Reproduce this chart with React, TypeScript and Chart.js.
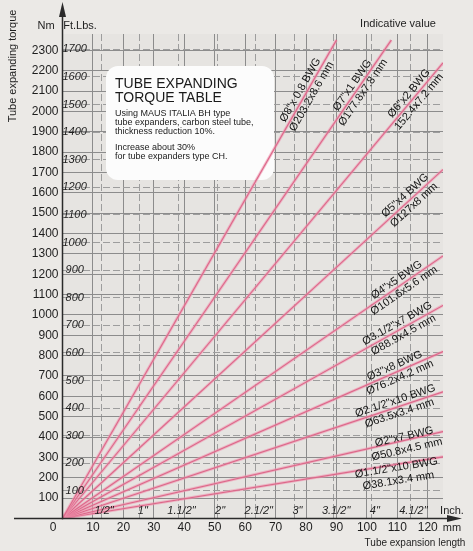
import React, { useEffect, useRef } from 'react';
import { Chart, registerables } from 'chart.js';

Chart.register(...registerables);

const FONT = '"Liberation Sans", Arial, Helvetica, sans-serif';

// Tube series (inch designation / metric designation)
const LINE_LABELS_INCH = [
  'Ø8"x 0.8 BWG',
  'Ø7"x1 BWG',
  'Ø6"x2 BWG',
  'Ø5"x4 BWG',
  'Ø4"x5 BWG',
  'Ø3.1/2"x7 BWG',
  'Ø3"x8 BWG',
  'Ø2.1/2"x10 BWG',
  'Ø2"x7 BWG',
  'Ø1.1/2"x10 BWG',
];
const LINE_LABELS_MM = [
  'Ø203.2x8.6 mm',
  'Ø177.8x7.8 mm',
  '152.4x7.2 mm',
  'Ø127x8 mm',
  'Ø101.6x5.6 mm',
  'Ø88.9x4.5 mm',
  'Ø76.2x4.2 mm',
  'Ø63.5x3.4 mm',
  'Ø50.8x4.5 mm',
  'Ø38.1x3.4 mm',
];
// Each line runs from (0 mm, 0 Nm) to its end point
const END_LENGTH_MM = [90, 108, 125, 125, 125, 125, 125, 125, 125, 125];
const END_TORQUE_NM = [2350, 2350, 2238, 1714, 1290, 1047, 820, 622, 427, 303];
// where the label sits along each line (mm)
const LABEL_AT_MM = [80, 97, 115.5, 114, 111, 111, 110, 110, 112.5, 109.5];

const INCH_TICK_VALUES = [0.5, 1, 1.5, 2, 2.5, 3, 3.5, 4, 4.5];
const INCH_TICK_LABELS = ['1/2"', '1"', '1.1/2"', '2"', '2.1/2"', '3"', '3.1/2"', '4"', '4.1/2"'];

const MM_MAX = 125;
const NM_MAX = 2380;
const NM_PER_FTLB = 1.35582;
const MM_PER_INCH = 25.4;

// styling
const SOLID_GRID = '#8c8c8c';
const DASH_GRID = '#9d9d9d';
const LABEL_PERP_SHIFT = [0, 0, 0, 0, 0, 0, 0, 0, 3, 10];

function hideZero(color: string) {
  return (c: any) => (c.tick && c.tick.value === 0 ? 'rgba(0,0,0,0)' : color);
}

const decor = {
  id: 'decor',
  beforeDraw(chart: any) {
    const { ctx, width, height } = chart;
    ctx.save();
    ctx.fillStyle = '#ebe9e6';
    ctx.fillRect(0, 0, width, height);
    const a = chart.chartArea;
    ctx.fillStyle = '#e6e4e1';
    ctx.fillRect(a.left, a.top, a.right - a.left, a.bottom - a.top);
    ctx.restore();
  },
  beforeDatasetsDraw(chart: any) {
    const { ctx } = chart;
    ctx.save();
    // info box
    const x = 106, y = 66, w = 168, h = 114, r = 12;
    ctx.beginPath();
    ctx.moveTo(x + r, y);
    ctx.arcTo(x + w, y, x + w, y + h, r);
    ctx.arcTo(x + w, y + h, x, y + h, r);
    ctx.arcTo(x, y + h, x, y, r);
    ctx.arcTo(x, y, x + w, y, r);
    ctx.closePath();
    ctx.fillStyle = '#fcfcfc';
    ctx.fill();
    ctx.fillStyle = '#1a1a1a';
    ctx.textAlign = 'left';
    ctx.textBaseline = 'alphabetic';
    ctx.font = `14px ${FONT}`;
    ctx.fillText('TUBE EXPANDING', 115, 88);
    ctx.fillText('TORQUE TABLE', 115, 102);
    ctx.font = `9px ${FONT}`;
    ctx.fillText('Using MAUS ITALIA BH type', 115, 116);
    ctx.fillText('tube expanders, carbon steel tube,', 115, 125);
    ctx.fillText('thickness reduction 10%.', 115, 134);
    ctx.fillText('Increase about 30%', 115, 150);
    ctx.fillText('for tube expanders type CH.', 115, 159);
    ctx.restore();
  },
  afterDraw(chart: any) {
    const { ctx } = chart;
    const xs = chart.scales.x;
    const ys = chart.scales.y;
    const x2 = chart.scales.x2;
    const ox = xs.getPixelForValue(0);
    const oy = ys.getPixelForValue(0);
    ctx.save();
    // axes
    ctx.strokeStyle = '#2a2a2a';
    ctx.fillStyle = '#2a2a2a';
    ctx.lineWidth = 1.5;
    ctx.beginPath();
    ctx.moveTo(ox, oy + 1);
    ctx.lineTo(ox, 10);
    ctx.moveTo(14, oy);
    ctx.lineTo(452, oy);
    ctx.stroke();
    ctx.beginPath();
    ctx.moveTo(ox, 2);
    ctx.lineTo(ox - 3.5, 17);
    ctx.lineTo(ox + 3.5, 17);
    ctx.closePath();
    ctx.fill();
    ctx.beginPath();
    ctx.moveTo(462, oy);
    ctx.lineTo(447, oy - 3.5);
    ctx.lineTo(447, oy + 3.5);
    ctx.closePath();
    ctx.fill();

    // line labels
    ctx.fillStyle = '#141414';
    ctx.font = `11px ${FONT}`;
    ctx.textAlign = 'center';
    ctx.textBaseline = 'middle';
    for (let i = 0; i < LINE_LABELS_INCH.length; i++) {
      const x1 = xs.getPixelForValue(END_LENGTH_MM[i]);
      const y1 = ys.getPixelForValue(END_TORQUE_NM[i]);
      const ang = Math.atan2(y1 - oy, x1 - ox);
      const t = LABEL_AT_MM[i] / END_LENGTH_MM[i];
      const px = ox + (x1 - ox) * t;
      const py = oy + (y1 - oy) * t;
      const sh = LABEL_PERP_SHIFT[i];
      ctx.save();
      ctx.translate(px, py);
      ctx.rotate(ang);
      ctx.fillText(LINE_LABELS_INCH[i], 0, -6.5 + sh);
      ctx.fillText(LINE_LABELS_MM[i], 0, 6.5 + sh);
      ctx.restore();
    }

    // inch labels
    ctx.font = `italic 11px ${FONT}`;
    ctx.fillStyle = '#1e1e1e';
    for (let i = 0; i < INCH_TICK_VALUES.length; i++) {
      const px = x2.getPixelForValue(INCH_TICK_VALUES[i]) + 3;
      ctx.fillText(INCH_TICK_LABELS[i], px, oy - 8);
    }

    // other texts
    ctx.font = `11px ${FONT}`;
    ctx.fillText('Inch.', 452, oy - 8);
    ctx.fillText('mm', 452, oy + 9);
    ctx.font = `12px ${FONT}`;
    ctx.fillText('0', 53, oy + 9);
    ctx.font = `11px ${FONT}`;
    ctx.fillText('Nm', 46, 26);
    ctx.fillText('Ft.Lbs.', 80, 26);
    ctx.fillText('Indicative value', 398, 24);
    ctx.font = `10px ${FONT}`;
    ctx.fillText('Tube expansion length', 415, 543);
    ctx.save();
    ctx.translate(13, 66);
    ctx.rotate(-Math.PI / 2);
    ctx.font = `11px ${FONT}`;
    ctx.fillText('Tube expanding torque', 0, 0);
    ctx.restore();
    ctx.restore();
  },
};

export default function App() {
  const ref = useRef<HTMLCanvasElement>(null);
  useEffect(() => {
    document.body.style.margin = '0';
    const datasets: any[] = [];
    for (let i = 0; i < END_LENGTH_MM.length; i++) {
      const data = [
        { x: 0, y: 0 },
        { x: END_LENGTH_MM[i], y: END_TORQUE_NM[i] },
      ];
      datasets.push({
        label: LINE_LABELS_INCH[i] + ' halo',
        data,
        borderColor: 'rgba(240,150,176,0.6)',
        borderWidth: 3,
        pointRadius: 0,
        xAxisID: 'x',
        yAxisID: 'y',
      });
      datasets.push({
        label: LINE_LABELS_INCH[i],
        data,
        borderColor: '#bf2450',
        borderWidth: 1.1,
        pointRadius: 0,
        xAxisID: 'x',
        yAxisID: 'y',
      });
    }
    const chart = new Chart(ref.current!, {
      type: 'line',
      data: { datasets },
      plugins: [decor],
      options: {
        animation: false,
        responsive: false,
        devicePixelRatio: 1,
        events: [],
        layout: { padding: { left: 0, right: 30, top: 34, bottom: 0 } },
        plugins: { legend: { display: false }, tooltip: { enabled: false } },
        scales: {
          x: {
            type: 'linear',
            position: 'bottom',
            min: 0,
            max: MM_MAX,
            weight: 1,
            ticks: {
              stepSize: 10,
              includeBounds: false,
              autoSkip: false,
              maxRotation: 0,
              padding: 2,
              color: '#1e1e1e',
              font: { family: FONT, size: 12 },
              callback: (v: any) => (v === 0 ? '' : String(v)),
            },
            grid: { color: hideZero(SOLID_GRID), lineWidth: 1, drawTicks: false },
            border: { display: false },
            afterFit: (s: any) => {
              s.height = 32.5;
            },
          },
          x2: {
            type: 'linear',
            position: 'bottom',
            min: 0,
            max: MM_MAX / MM_PER_INCH,
            weight: 0,
            ticks: { display: false, stepSize: 0.5, includeBounds: false, autoSkip: false },
            grid: { color: hideZero(DASH_GRID), lineWidth: 1, drawTicks: false },
            border: { display: false, dash: [7, 3] },
            afterFit: (s: any) => {
              s.height = 0;
            },
          },
          y: {
            type: 'linear',
            position: 'left',
            min: 0,
            max: NM_MAX,
            weight: 3,
            ticks: {
              stepSize: 100,
              includeBounds: false,
              autoSkip: false,
              padding: 4,
              color: '#1e1e1e',
              font: { family: FONT, size: 12 },
              callback: (v: any) => (v === 0 ? '' : String(v)),
            },
            grid: { color: hideZero(SOLID_GRID), lineWidth: 1, drawTicks: false },
            border: { display: false },
            afterFit: (s: any) => {
              s.width = 62.5;
            },
          },
          y2: {
            type: 'linear',
            position: 'left',
            min: 0,
            max: NM_MAX / NM_PER_FTLB,
            weight: 2,
            ticks: {
              stepSize: 100,
              includeBounds: false,
              autoSkip: false,
              mirror: true,
              crossAlign: 'center',
              padding: 0,
              z: 1,
              color: '#1e1e1e',
              font: { family: FONT, size: 11, style: 'italic' },
              callback: (v: any) => (v === 0 ? '' : String(v)),
            },
            grid: { color: hideZero(DASH_GRID), lineWidth: 1, drawTicks: false },
            border: { display: false, dash: [7, 3] },
            afterFit: (s: any) => {
              s.width = 0;
            },
          },
        },
      } as any,
    });
    return () => chart.destroy();
  }, []);
  return (
    <div style={{ width: 473, height: 551 }}>
      <canvas ref={ref} width={473} height={551} style={{ display: 'block', width: 473, height: 551 }} />
    </div>
  );
}
